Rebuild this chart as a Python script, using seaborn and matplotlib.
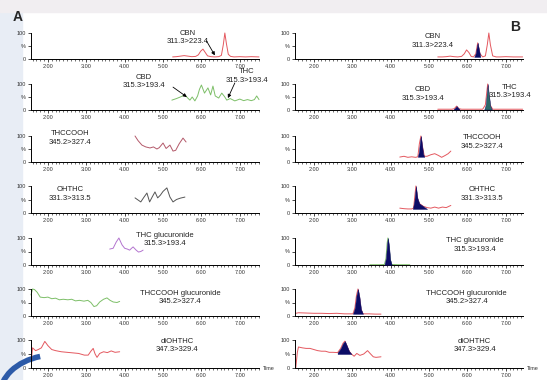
import matplotlib
matplotlib.use("Agg")
import matplotlib.pyplot as plt
import seaborn as sns
from matplotlib.ticker import MultipleLocator, FixedLocator, FixedFormatter
from matplotlib.patches import Rectangle, Arc

sns.set_theme(style="white")
plt.rcParams['font.family'] = ['Liberation Sans', 'DejaVu Sans']

# ---------------- data: panel A (left) ----------------
a_cbn_t = [5.25, 5.35, 5.45, 5.55, 5.65, 5.75, 5.85, 5.92, 5.98, 6.04, 6.1, 6.16, 6.25, 6.35, 6.45,
           6.52, 6.57, 6.61, 6.65, 6.7, 6.76, 6.85, 7.0, 7.15, 7.3, 7.5]
a_cbn_y = [8, 9, 11, 13, 11, 9, 10, 16, 30, 38, 25, 12, 9, 8, 9, 14, 55, 100, 60, 18, 10, 8, 9, 8, 9, 8]

a_thc_t = [5.23, 5.35, 5.45, 5.57, 5.65, 5.7, 5.76, 5.83, 5.9, 5.95, 6.0, 6.08, 6.17, 6.24, 6.3, 6.36,
           6.45, 6.53, 6.6, 6.66, 6.75, 6.87, 7.0, 7.1, 7.2, 7.3, 7.38, 7.44, 7.5]
a_thc_y = [38, 44, 50, 58, 45, 38, 50, 35, 54, 80, 96, 65, 85, 58, 92, 54, 46, 65, 52, 38, 44, 35, 42,
           36, 40, 36, 40, 54, 40]

a_cooh_t = [4.27, 4.35, 4.45, 4.55, 4.66, 4.75, 4.84, 4.9, 5.0, 5.08, 5.18, 5.26, 5.33, 5.42, 5.52, 5.6]
a_cooh_y = [100, 82, 65, 58, 54, 58, 50, 55, 73, 52, 65, 42, 45, 70, 92, 77]

a_oh_t = [4.27, 4.35, 4.42, 4.5, 4.58, 4.65, 4.72, 4.79, 4.86, 4.93, 5.0, 5.1, 5.18, 5.26, 5.35, 5.45, 5.57]
a_oh_y = [56, 48, 41, 58, 74, 41, 60, 78, 56, 66, 80, 93, 59, 41, 50, 55, 59]

a_gluc_t = [3.61, 3.7, 3.78, 3.85, 3.93, 4.0, 4.07, 4.13, 4.18, 4.22, 4.3, 4.36, 4.42, 4.48]
a_gluc_y = [59, 62, 85, 100, 75, 62, 59, 55, 62, 67, 55, 48, 50, 55]

a_cgluc_t = [1.56, 1.6, 1.65, 1.72, 1.8, 1.9, 2.0, 2.1, 2.2, 2.3, 2.4, 2.52, 2.62, 2.72, 2.82, 2.94,
             3.04, 3.12, 3.2, 3.27, 3.35, 3.45, 3.54, 3.62, 3.7, 3.8, 3.87]
a_cgluc_y = [78, 100, 98, 88, 70, 68, 70, 64, 66, 60, 62, 60, 62, 56, 58, 55, 58, 50, 35, 38, 52, 62,
             67, 58, 52, 50, 54]

a_diol_t = [1.57, 1.6, 1.68, 1.75, 1.83, 1.92, 2.0, 2.1, 2.2, 2.35, 2.5, 2.65, 2.8, 2.95, 3.05, 3.12,
            3.18, 3.23, 3.28, 3.35, 3.45, 3.55, 3.65, 3.75, 3.87]
a_diol_y = [30, 72, 62, 66, 72, 95, 80, 66, 62, 58, 56, 54, 52, 46, 46, 60, 70, 50, 38, 52, 58, 55, 61, 56, 58]

# ---------------- data: panel B (right) ----------------
b_cbn_t = [5.23, 5.35, 5.45, 5.55, 5.65, 5.75, 5.85, 5.92, 5.98, 6.04, 6.1, 6.16, 6.22, 6.27, 6.33,
           6.4, 6.47, 6.52, 6.56, 6.6, 6.66, 6.75, 6.85, 7.0, 7.2, 7.44]
b_cbn_y = [8, 8, 9, 11, 9, 8, 10, 20, 35, 25, 10, 8, 20, 62, 20, 8, 12, 55, 100, 55, 12, 8, 8, 9, 8, 8]
b_cbn_pk_t = [6.18, 6.22, 6.25, 6.27, 6.3, 6.34]
b_cbn_pk_y = [8, 22, 50, 62, 38, 8]

b_thc_t = [5.23, 5.4, 5.6, 5.66, 5.72, 5.78, 5.85, 6.0, 6.2, 6.4, 6.47, 6.53, 6.59, 6.66, 6.8, 7.0, 7.2, 7.44]
b_thc_y = [3, 3, 3, 5, 15, 5, 3, 3, 3, 3, 20, 100, 20, 3, 3, 3, 3, 3]
b_cbd_pk_t = [5.64, 5.68, 5.72, 5.76, 5.8]
b_cbd_pk_y = [2, 8, 15, 8, 2]
b_thc_pk_t = [6.44, 6.48, 6.51, 6.53, 6.56, 6.6, 6.64]
b_thc_pk_y = [2, 20, 70, 100, 60, 15, 2]

b_cooh_t = [4.24, 4.35, 4.45, 4.55, 4.65, 4.71, 4.75, 4.79, 4.83, 4.88, 4.95, 5.05, 5.15, 5.25, 5.33,
            5.42, 5.5, 5.57]
b_cooh_y = [19, 22, 18, 20, 18, 20, 70, 100, 60, 22, 22, 28, 32, 25, 18, 25, 32, 42]
b_cooh_pk_t = [4.71, 4.74, 4.77, 4.79, 4.82, 4.85, 4.88]
b_cooh_pk_y = [20, 40, 85, 100, 65, 30, 20]

b_oh_t = [4.24, 4.35, 4.45, 4.55, 4.6, 4.63, 4.66, 4.7, 4.75, 4.85, 4.95, 5.05, 5.15, 5.25, 5.35, 5.45, 5.57]
b_oh_y = [18, 16, 15, 15, 18, 60, 100, 55, 35, 25, 20, 18, 22, 18, 22, 20, 28]
b_oh_pk_t = [4.58, 4.62, 4.66, 4.7, 4.75, 4.8, 4.85, 4.9, 4.95]
b_oh_pk_y = [15, 45, 100, 55, 35, 30, 25, 20, 15]

b_gluc_t = [3.46, 3.7, 3.84, 3.88, 3.91, 3.93, 3.96, 3.99, 4.03, 4.2, 4.5]
b_gluc_y = [1, 1, 2, 25, 80, 100, 70, 20, 2, 1, 1]
b_gluc_pk_t = [3.84, 3.88, 3.91, 3.93, 3.96, 3.99, 4.03]
b_gluc_pk_y = [1, 25, 80, 100, 70, 20, 1]

b_cgluc_t = [1.53, 1.6, 1.8, 2.0, 2.2, 2.4, 2.6, 2.8, 2.95, 3.02, 3.07, 3.11, 3.15, 3.19, 3.23, 3.28,
             3.45, 3.6, 3.75]
b_cgluc_y = [10, 12, 11, 10, 10, 9, 10, 8, 8, 8, 30, 75, 100, 70, 25, 8, 8, 7, 7]
b_cgluc_pk_t = [3.02, 3.07, 3.11, 3.15, 3.19, 3.23, 3.28]
b_cgluc_pk_y = [8, 30, 75, 100, 70, 25, 8]

b_diol_t = [1.53, 1.57, 1.6, 1.7, 1.8, 1.9, 2.0, 2.1, 2.2, 2.3, 2.4, 2.5, 2.62, 2.7, 2.76, 2.81, 2.86,
            2.92, 2.98, 3.05, 3.12, 3.2, 3.3, 3.4, 3.48, 3.55, 3.62, 3.75]
b_diol_y = [0, 55, 75, 72, 70, 70, 66, 62, 60, 60, 56, 56, 55, 70, 88, 96, 80, 60, 50, 42, 52, 45, 50,
            62, 50, 40, 38, 40]
b_diol_pk_t = [2.62, 2.7, 2.76, 2.81, 2.86, 2.92, 2.98]
b_diol_pk_y = [55, 70, 88, 96, 80, 60, 50]

labels = ["CBN\n311.3>223.4", "CBD\n315.3>193.4", "THCCOOH\n345.2>327.4", "OHTHC\n331.3>313.5",
          "THC glucuronide\n315.3>193.4", "THCCOOH glucuronide\n345.2>327.4", "diOHTHC\n347.3>329.4"]
thc_label = "THC\n315.3>193.4"
x_ticks = [2, 3, 4, 5, 6, 7]
x_ticklabels = ["2.00", "3.00", "4.00", "5.00", "6.00", "7.00"]

RED = "#e4585f"
GREEN = "#7dbf68"
NAVY = "#0c0c66"
TEAL = "#2d6b69"

W, H = 547, 380
fig = plt.figure(figsize=(W / 100, H / 100), dpi=100)
fig.patch.set_facecolor("white")

# background decoration
fig.patches.append(Rectangle((0, 0), 22 / W, 1, transform=fig.transFigure, color="#e8edf5", zorder=-5))
fig.patches.append(Rectangle((0, 1 - 12 / H), 1, 12 / H, transform=fig.transFigure, color="#f1eef1", zorder=-5))
fig.patches.append(Arc((55 / W, -15 / H), 110 / W, 80 / H, theta1=105, theta2=180,
                       transform=fig.transFigure, color="#2c5aa8", lw=4, zorder=-4))

rows = [(33, 59), (84, 110), (136, 162), (186, 213), (238, 265), (289, 316), (340, 368)]
cols = {"A": (31, 259, (1.56, 7.5)), "B": (295, 523, (1.51, 7.45))}


def make_ax(col, r):
    x0, x1, xl = cols[col]
    top, bot = rows[r]
    ax = fig.add_axes([x0 / W, 1 - bot / H, (x1 - x0) / W, (bot - top) / H])
    ax.set_xlim(*xl)
    ax.set_ylim(0, 100)
    ax.patch.set_alpha(0)
    for s in ["top", "right"]:
        ax.spines[s].set_visible(False)
    for s in ["left", "bottom"]:
        ax.spines[s].set_color("black")
        ax.spines[s].set_linewidth(0.7)
    ax.xaxis.set_major_locator(FixedLocator(x_ticks))
    ax.xaxis.set_major_formatter(FixedFormatter(x_ticklabels))
    ax.xaxis.set_minor_locator(MultipleLocator(0.1))
    ax.yaxis.set_major_locator(FixedLocator([0, 50, 100]))
    ax.yaxis.set_major_formatter(FixedFormatter(["0", "%", "100"]))
    ax.tick_params(axis="both", which="major", direction="out", length=2.5, width=0.5,
                   labelsize=4, pad=1, colors="black", labelcolor="#333333")
    ax.tick_params(axis="x", which="minor", direction="out", length=1.3, width=0.4, color="black")
    ax.tick_params(axis="x", which="both", bottom=True)
    ax.tick_params(axis="y", which="both", left=True)
    ax.set_xlabel("")
    ax.set_ylabel("")
    return ax


def trace(ax, t, y, color):
    sns.lineplot(x=t, y=y, ax=ax, color=color, lw=0.7, estimator=None, sort=False, clip_on=False)


def peak(ax, t, y, color):
    base = min(y)
    ax.fill_between(t, y, base, color=color, lw=0.3, edgecolor=NAVY, zorder=3, clip_on=False)


def label(ax, t, y, s):
    ax.text(t, y, s, ha="center", va="center", fontsize=5.5, linespacing=1.25,
            color="#222222", clip_on=False)


def arrow(ax, tip, start):
    ax.annotate("", xy=tip, xytext=start,
                arrowprops=dict(arrowstyle="-|>", color="black", lw=0.6, mutation_scale=5,
                                shrinkA=0, shrinkB=0), annotation_clip=False)


# ---------- panel A ----------
a_traces = [(a_cbn_t, a_cbn_y, RED), (a_thc_t, a_thc_y, GREEN), (a_cooh_t, a_cooh_y, "#b3596a"),
            (a_oh_t, a_oh_y, "#555555"), (a_gluc_t, a_gluc_y, "#b374cf"),
            (a_cgluc_t, a_cgluc_y, GREEN), (a_diol_t, a_diol_y, RED)]
a_lab_pos = [(5.64, 84), (4.5, 111), (2.57, 92), (2.57, 70), (5.05, 94), (5.44, 68), (5.36, 80)]
axA = []
for r, (t, y, c) in enumerate(a_traces):
    ax = make_ax("A", r)
    trace(ax, t, y, c)
    label(ax, *a_lab_pos[r], labels[r])
    axA.append(ax)
label(axA[1], 7.18, 131, thc_label)
arrow(axA[0], (6.35, 14), (6.13, 70))
arrow(axA[1], (5.62, 50), (5.26, 88))
arrow(axA[1], (6.69, 46), (6.87, 104))

# ---------- panel B ----------
b_traces = [(b_cbn_t, b_cbn_y), (b_thc_t, b_thc_y), (b_cooh_t, b_cooh_y), (b_oh_t, b_oh_y),
            (b_gluc_t, b_gluc_y), (b_cgluc_t, b_cgluc_y), (b_diol_t, b_diol_y)]
b_peaks = [[(b_cbn_pk_t, b_cbn_pk_y, NAVY)],
           [(b_cbd_pk_t, b_cbd_pk_y, NAVY), (b_thc_pk_t, b_thc_pk_y, TEAL)],
           [(b_cooh_pk_t, b_cooh_pk_y, NAVY)], [(b_oh_pk_t, b_oh_pk_y, NAVY)],
           [(b_gluc_pk_t, b_gluc_pk_y, NAVY)], [(b_cgluc_pk_t, b_cgluc_pk_y, NAVY)],
           [(b_diol_pk_t, b_diol_pk_y, NAVY)]]
b_lab_pos = [(5.1, 69), (4.84, 62), (6.38, 77), (6.38, 70), (6.19, 74), (5.98, 68), (6.19, 80)]
axB = []
for r, (t, y) in enumerate(b_traces):
    ax = make_ax("B", r)
    trace(ax, t, y, GREEN if r == 4 else RED)
    for pt, py, pc in b_peaks[r]:
        peak(ax, pt, py, pc)
    label(ax, *b_lab_pos[r], labels[r])
    axB.append(ax)
label(axB[1], 7.1, 71, thc_label)

# panel letters and axis titles
fig.text(18 / W, 1 - 17 / H, "A", fontsize=10, fontweight="bold", ha="center", va="center")
fig.text(515 / W, 1 - 27 / H, "B", fontsize=10, fontweight="bold", ha="center", va="center")
fig.text(263 / W, 1 - 368 / H, "Time", fontsize=4, ha="left", va="center", color="#333333")
fig.text(527 / W, 1 - 368 / H, "Time", fontsize=4, ha="left", va="center", color="#333333")

fig.savefig("out.png", dpi=100)
